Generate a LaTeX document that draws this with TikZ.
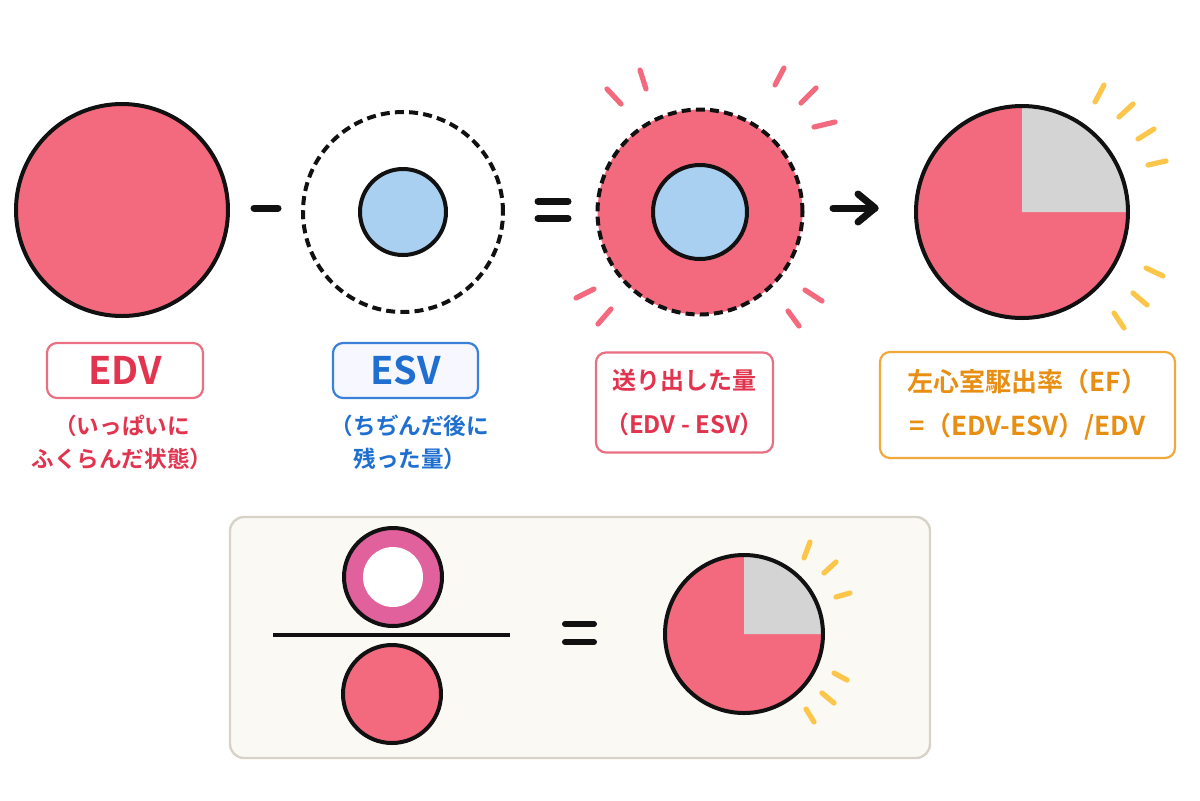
\documentclass[tikz,border=0pt]{standalone}
\usepackage{fontspec}
\setmainfont{Noto Sans CJK JP}[BoldFont={Noto Sans CJK JP Bold}]
\usetikzlibrary{arrows.meta}
\definecolor{pinkfill}{HTML}{F36A7E}
\definecolor{bluefill}{HTML}{A9CFF1}
\definecolor{grayq}{HTML}{D4D4D4}
\definecolor{ringpink}{HTML}{E0619B}
\definecolor{sunyellow}{HTML}{FCC64B}
\definecolor{redtext}{HTML}{E2344F}
\definecolor{bluetext}{HTML}{1F6FD1}
\definecolor{orangetext}{HTML}{E88E12}
\definecolor{redborder}{HTML}{EA6F82}
\definecolor{blueborder}{HTML}{3A80D8}
\definecolor{orangeborder}{HTML}{F0A93A}
\definecolor{panelfill}{HTML}{FBF9F4}
\definecolor{panelborder}{HTML}{D8D3C8}
\definecolor{ink}{HTML}{111111}
\begin{document}
\begin{tikzpicture}[x=0.5pt,y=-0.5pt,
  disc/.style={circle, inner sep=0pt, outer sep=0pt},
  solidrim/.style={draw=ink, line width=2pt},
  dashrim/.style={draw=ink, line width=2pt, dash pattern=on 4.5pt off 2.6pt},
  bar/.style={draw=ink, line width=3.5pt, line cap=round},
  pray/.style={draw=pinkfill, line width=2.6pt, line cap=round},
  yray/.style={draw=sunyellow, line width=2.6pt, line cap=round},
  labelbox/.style={rounded corners=5pt, line width=1.1pt, inner sep=0pt, font=\bfseries},
  subtext/.style={font=\bfseries\fontsize{11.3}{16.5}\selectfont, align=center, inner sep=0pt}
]
\useasboundingbox (0,0) rectangle (1200,800);

% ---------- top row ----------
\node[disc, solidrim, fill=pinkfill, minimum size=106pt] (edv) at (122,210) {};

\coordinate (m1) at (254,208); \coordinate (m2) at (278,208);
\draw[bar] (m1) -- (m2);

\node[disc, dashrim, minimum size=100pt] (esvout) at (403,212) {};
\node[disc, solidrim, fill=bluefill, minimum size=43pt] (esvin) at (403,212) {};

\coordinate (e1a) at (538,201.5); \coordinate (e1b) at (568,201.5);
\coordinate (e2a) at (538,218.5); \coordinate (e2b) at (568,218.5);
\draw[bar] (e1a) -- (e1b);
\draw[bar] (e2a) -- (e2b);

\node[disc, dashrim, fill=pinkfill, minimum size=102.5pt] (sv) at (700,212) {};
\node[disc, solidrim, fill=bluefill, minimum size=47pt] (svin) at (700,212) {};
% pink rays
\draw[pray] (607,89) -- (621,104);
\draw[pray] (640,70) -- (646,89);
\draw[pray] (775,85) -- (784,68);
\draw[pray] (801,103) -- (816,88);
\draw[pray] (814,127) -- (835,122);
\draw[pray] (576,298) -- (594,289);
\draw[pray] (598,324) -- (611,309);
\draw[pray] (805,290) -- (822,301);
\draw[pray] (788,311) -- (799,326);

% arrow
\coordinate (a1) at (833,208); \coordinate (a2) at (875,208);
\coordinate (h1) at (858,194); \coordinate (h2) at (858,222);
\draw[bar, line join=round] (a1) -- (a2);
\draw[bar, line join=round] (h1) -- (a2) -- (h2);

% EF pie
\node[disc, fill=pinkfill, minimum size=106pt] (ef) at (1022,212) {};
\fill[grayq] (ef.center) -- (ef.east) arc[start angle=0, end angle=-90, radius=106] -- cycle;
\node[disc, solidrim, minimum size=106pt] at (ef.center) {};
\draw[yray] (1095,102) -- (1104,85);
\draw[yray] (1119,117) -- (1133,104);
\draw[yray] (1138,139) -- (1154,129);
\draw[yray] (1148,165) -- (1166,161);
\draw[yray] (1146,268) -- (1163,276);
\draw[yray] (1133,293) -- (1147,305);
\draw[yray] (1114,313) -- (1124,328);

% ---------- labels ----------
\node[labelbox, draw=redborder, fill=white, minimum width=78pt, minimum height=27.5pt,
      text=redtext, font=\bfseries\fontsize{19}{19}\selectfont] (edvlab) at (125,370.5) {EDV};
\node[subtext, text=redtext] (edvsub) at (122,442) {（いっぱいに\\ふくらんだ状態）};

\node[labelbox, draw=blueborder, fill=blue!3, minimum width=72.5pt, minimum height=27.5pt,
      text=bluetext, font=\bfseries\fontsize{19}{19}\selectfont] (esvlab) at (405.5,370.5) {ESV};
\node[subtext, text=bluetext] (esvsub) at (410,442) {（ちぢんだ後に\\残った量）};

\node[labelbox, draw=redborder, fill=white, minimum width=88.5pt, minimum height=50pt,
      text=redtext, align=center, font=\bfseries\fontsize{12}{22}\selectfont] (svlab) at (684.5,402.5)
      {送り出した量\\（EDV - ESV）};

\node[labelbox, draw=orangeborder, fill=white, minimum width=147.5pt, minimum height=53pt,
      text=orangetext, align=center, font=\bfseries\fontsize{13}{22}\selectfont] (eflab) at (1027.5,405)
      {左心室駆出率（EF）\\=（EDV-ESV）/EDV};

% ---------- bottom panel ----------
\node[draw=panelborder, fill=panelfill, line width=1.2pt, rounded corners=7pt,
      minimum width=350pt, minimum height=120.5pt, inner sep=0pt] (panel) at (580,637.5) {};

\node[disc, solidrim, fill=ringpink, minimum size=49pt] (ring) at (393,577) {};
\node[disc, fill=white, minimum size=30pt] (ringhole) at (393,577) {};

\coordinate (f1) at (273,635); \coordinate (f2) at (510,635);
\draw[draw=ink, line width=2pt] (f1) -- (f2);

\node[disc, solidrim, fill=pinkfill, minimum size=49pt] (edvsmall) at (392,694) {};

\coordinate (q1a) at (565,624); \coordinate (q1b) at (594,624);
\coordinate (q2a) at (565,642); \coordinate (q2b) at (594,642);
\draw[bar, line width=3pt] (q1a) -- (q1b);
\draw[bar, line width=3pt] (q2a) -- (q2b);

\node[disc, fill=pinkfill, minimum size=79pt] (efsmall) at (744,634) {};
\fill[grayq] (efsmall.center) -- (efsmall.east) arc[start angle=0, end angle=-90, radius=79] -- cycle;
\node[disc, solidrim, minimum size=79pt] at (efsmall.center) {};
\draw[yray] (810,542) -- (804,558);
\draw[yray] (836,562) -- (824,573);
\draw[yray] (850,593) -- (836,597);
\draw[yray] (834,673) -- (847,680);
\draw[yray] (822,693) -- (834,703);
\draw[yray] (806,709) -- (814,722);
\end{tikzpicture}
\end{document}
